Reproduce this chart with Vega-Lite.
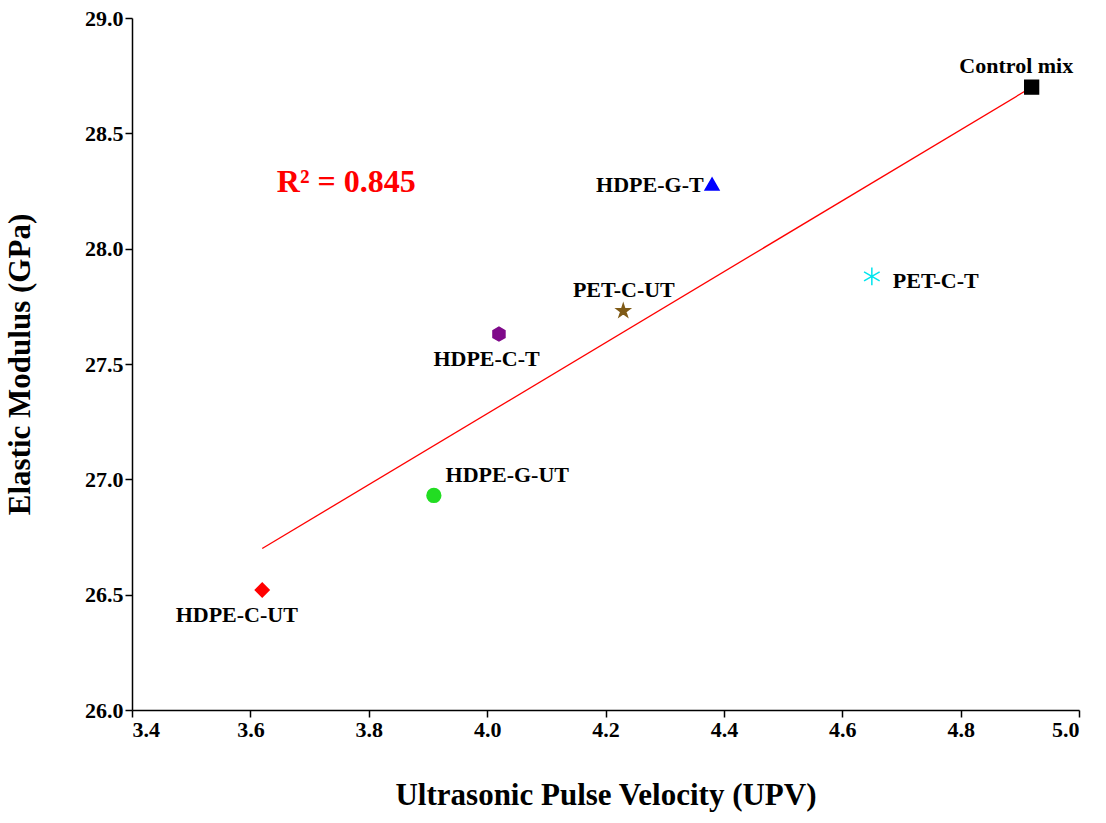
{
  "$schema": "https://vega.github.io/schema/vega-lite/v6.json",
  "width": 947,
  "height": 692,
  "autosize": "none",
  "padding": {"left": 132, "top": 18, "right": 27, "bottom": 113},
  "background": "white",
  "config": {
    "view": {"stroke": null},
    "font": "Liberation Serif",
    "axis": {
      "domainColor": "black", "domainWidth": 1.5, "tickColor": "black", "tickWidth": 1.5, "tickSize": 7,
      "grid": false, "labelFont": "Liberation Serif", "labelFontSize": 22, "labelFontWeight": "bold", "labelColor": "black",
      "titleFont": "Liberation Serif", "titleFontSize": 31, "titleFontWeight": "bold", "titleColor": "black"
    }
  },
  "datasets": {
    "pts": [
      {"name": "Control mix", "upv": 4.92, "em": 28.70, "lx": 4.894, "ly": 28.79},
      {"name": "HDPE-G-T", "upv": 4.38, "em": 28.28, "lx": 4.275, "ly": 28.276},
      {"name": "PET-C-T", "upv": 4.65, "em": 27.88, "lx": 4.758, "ly": 27.86},
      {"name": "PET-C-UT", "upv": 4.23, "em": 27.73, "lx": 4.231, "ly": 27.82},
      {"name": "HDPE-C-T", "upv": 4.02, "em": 27.63, "lx": 3.999, "ly": 27.52},
      {"name": "HDPE-G-UT", "upv": 3.91, "em": 26.93, "lx": 4.034, "ly": 27.02},
      {"name": "HDPE-C-UT", "upv": 3.62, "em": 26.52, "lx": 3.577, "ly": 26.41}
    ],
    "fit": [
      {"upv": 3.62, "em": 26.70},
      {"upv": 4.92, "em": 28.70}
    ]
  },
  "layer": [
    {
      "data": {"name": "fit"},
      "mark": {"type": "line", "color": "red", "strokeWidth": 1.3},
      "encoding": {
        "x": {"field": "upv", "type": "quantitative", "scale": {"domain": [3.4, 5.0]},
          "axis": {"values": [3.4, 3.6, 3.8, 4.0, 4.2, 4.4, 4.6, 4.8, 5.0], "format": ".1f", "title": "Ultrasonic Pulse Velocity (UPV)", "titlePadding": 40}},
        "y": {"field": "em", "type": "quantitative", "scale": {"domain": [26.0, 29.0]},
          "axis": {"values": [26.0, 26.5, 27.0, 27.5, 28.0, 28.5, 29.0], "format": ".1f", "title": "Elastic Modulus (GPa)", "titlePadding": 48}}
      }
    },
    {
      "data": {"name": "pts"},
      "mark": {"type": "point", "filled": true, "size": 190, "strokeWidth": 1.5, "opacity": 1},
      "encoding": {
        "x": {"field": "upv", "type": "quantitative"},
        "y": {"field": "em", "type": "quantitative"},
        "shape": {"field": "name", "type": "nominal", "legend": null, "scale": {
          "domain": ["Control mix", "HDPE-G-T", "PET-C-T", "PET-C-UT", "HDPE-C-T", "HDPE-G-UT", "HDPE-C-UT"],
          "range": ["square", "triangle-up",
            "M0,-1.3L0,1.3M-1.13,-0.65L1.13,0.65M-1.13,0.65L1.13,-0.65",
            "M0,-1L0.22,-0.31L0.95,-0.31L0.36,0.12L0.59,0.81L0,0.38L-0.59,0.81L-0.36,0.12L-0.95,-0.31L-0.22,-0.31Z",
            "M0,-1L0.87,-0.5L0.87,0.5L0,1L-0.87,0.5L-0.87,-0.5Z",
            "circle", "diamond"]}},
        "color": {"field": "name", "type": "nominal", "legend": null, "scale": {
          "domain": ["Control mix", "HDPE-G-T", "PET-C-T", "PET-C-UT", "HDPE-C-T", "HDPE-G-UT", "HDPE-C-UT"],
          "range": ["#000000", "#0000ff", "#00e5ee", "#7f5a16", "#7f0a8a", "#22dd22", "#ff0000"]}},
        "stroke": {"field": "name", "type": "nominal", "legend": null, "scale": {
          "domain": ["Control mix", "HDPE-G-T", "PET-C-T", "PET-C-UT", "HDPE-C-T", "HDPE-G-UT", "HDPE-C-UT"],
          "range": ["#000000", "#0000ff", "#00e5ee", "#7f5a16", "#7f0a8a", "#22dd22", "#ff0000"]}}
      }
    },
    {
      "data": {"name": "pts"},
      "mark": {"type": "text", "fontSize": 22, "fontWeight": "bold", "color": "black", "font": "Liberation Serif"},
      "encoding": {
        "x": {"field": "lx", "type": "quantitative"},
        "y": {"field": "ly", "type": "quantitative"},
        "text": {"field": "name"}
      }
    },
    {
      "data": {"values": [{"t": "R² = 0.845", "x": 3.762, "y": 28.29}]},
      "mark": {"type": "text", "fontSize": 32, "fontWeight": "bold", "color": "red", "font": "Liberation Serif"},
      "encoding": {
        "x": {"field": "x", "type": "quantitative"},
        "y": {"field": "y", "type": "quantitative"},
        "text": {"field": "t"}
      }
    }
  ]
}
